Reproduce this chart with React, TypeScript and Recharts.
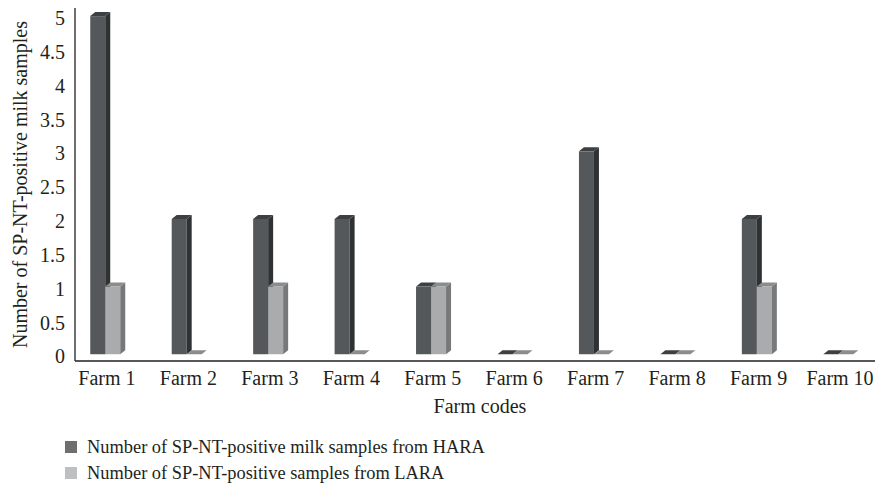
import { BarChart, Bar, XAxis, YAxis, Legend } from 'recharts';

const farms = ['Farm 1', 'Farm 2', 'Farm 3', 'Farm 4', 'Farm 5', 'Farm 6', 'Farm 7', 'Farm 8', 'Farm 9', 'Farm 10'];
const haraValues = [5, 2, 2, 2, 1, 0, 3, 0, 2, 0];
const laraValues = [1, 0, 1, 0, 1, 0, 0, 0, 1, 0];
const yTicks = [0, 0.5, 1, 1.5, 2, 2.5, 3, 3.5, 4, 4.5, 5];
const xTicks = [1, 2, 3, 4, 5, 6, 7, 8, 9, 10];

const haraName = 'Number of SP-NT-positive milk samples from HARA';
const laraName = 'Number of SP-NT-positive samples from LARA';

const data = farms.map((f, i) => ({
  idx: i + 1,
  farm: f,
  hara: haraValues[i],
  lara: laraValues[i],
}));

const FONT = '"Liberation Serif", "Times New Roman", serif';
const INK = '#231f20';

const palettes: Record<string, { front: string; side: string; top: string }> = {
  hara: { front: '#55585a', side: '#2f3233', top: '#3d4042' },
  lara: { front: '#a9abac', side: '#767879', top: '#8a8c8d' },
};

// front face + right side + top, gives the old excel 3d look
const Bar3D = (props: any) => {
  const { x, y, width, height, dataKey } = props;
  const c = palettes[dataKey] ?? palettes.hara;
  const dx = 5;
  const dy = 4;
  const h = Math.max(0, height || 0);
  return (
    <g>
      {h > 0 && <rect x={x} y={y} width={width} height={h} fill={c.front} />}
      {h > 0 && (
        <polygon
          points={`${x + width},${y} ${x + width + dx},${y - dy} ${x + width + dx},${y + h - dy} ${x + width},${y + h}`}
          fill={c.side}
        />
      )}
      <polygon
        points={`${x},${y} ${x + dx},${y - dy} ${x + width + dx},${y - dy} ${x + width},${y}`}
        fill={c.top}
      />
    </g>
  );
};

const LegendBox = ({ payload }: any) => (
  <div style={{ fontFamily: FONT, fontSize: 18.4, color: INK, lineHeight: '26px' }}>
    {(payload || []).map((p: any) => (
      <div key={p.value} style={{ display: 'flex', alignItems: 'center' }}>
        <span
          style={{
            display: 'inline-block',
            width: 12,
            height: 12,
            background: p.dataKey === 'hara' ? '#6d6f71' : '#bdbfc0',
            marginRight: 10,
          }}
        />
        <span>{p.value}</span>
      </div>
    ))}
  </div>
);

export default function App() {
  return (
    <div style={{ position: 'absolute', left: 0, top: 0, background: '#fff' }}>
      <BarChart
        width={878}
        height={485}
        data={data}
        margin={{ top: 8, right: 3, left: 0, bottom: 12 }}
        barGap={0}
        barSize={15}
      >
        <XAxis
          type="number"
          dataKey="idx"
          domain={[0.632, 10.454]}
          ticks={xTicks}
          tickFormatter={(v) => farms[v - 1]}
          tickLine={false}
          tickSize={0}
          tickMargin={10}
          axisLine={{ stroke: INK, strokeWidth: 1.3 }}
          tick={{ fill: INK, fontSize: 20, fontFamily: FONT, dx: 2 }}
          height={60}
          interval={0}
          label={{
            value: 'Farm codes',
            position: 'insideBottom',
            offset: 8,
            dx: 5,
            style: { fill: INK, fontSize: 20, fontFamily: FONT },
          }}
        />
        <YAxis
          domain={[-0.1, 5.12]}
          ticks={yTicks}
          width={75}
          tickLine={false}
          tickSize={0}
          tickMargin={10}
          axisLine={{ stroke: INK, strokeWidth: 1.3 }}
          tick={{ fill: INK, fontSize: 20, fontFamily: FONT, dy: 2 }}
          allowDataOverflow
          label={{
            value: 'Number of SP-NT-positive milk samples',
            angle: -90,
            position: 'insideLeft',
            offset: 20,
            style: { fill: INK, fontSize: 20, fontFamily: FONT, textAnchor: 'middle' },
          }}
        />
        <Legend
          content={<LegendBox />}
          wrapperStyle={{ position: 'absolute', left: 65, top: 434, width: 600 }}
        />
        <Bar dataKey="hara" name={haraName} fill="#6d6f71" shape={<Bar3D />} isAnimationActive={false} />
        <Bar dataKey="lara" name={laraName} fill="#bdbfc0" shape={<Bar3D />} isAnimationActive={false} />
      </BarChart>
    </div>
  );
}
